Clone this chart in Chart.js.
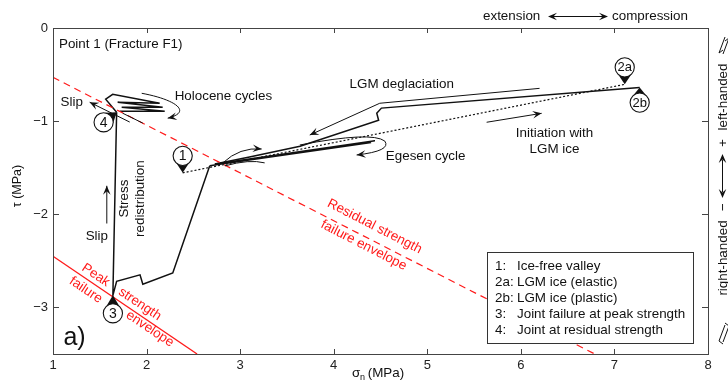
<!DOCTYPE html>
<html>
<head>
<meta charset="utf-8">
<script src="https://cdn.jsdelivr.net/npm/chart.js@4.4.0/dist/chart.umd.min.js"></script>
<style>
  html, body { margin: 0; padding: 0; background: #fff; }
  #wrap { width: 728px; height: 383px; }
</style>
</head>
<body>
<div id="wrap"><canvas id="chart" width="728" height="383"></canvas></div>
<script>
const FONT = '"Liberation Sans", Arial, Helvetica, sans-serif';

// axes
const xTicks = [1, 2, 3, 4, 5, 6, 7, 8];
const yTicks = [0, -1, -2, -3];

// failure envelopes
const peakX = [1, 2.54];
const peakY = [-2.45, -3.5];
const residualX = [1, 6.79];
const residualY = [-0.53, -3.5];

// initiation with LGM ice (1 -> 2a), dotted
const initX = [2.386, 7.11];
const initY = [-1.555, -0.605];

// LGM deglaciation (2b -> back left)
const deglacX = [7.27, 4.51, 4.46, 4.48, 3.64, 3.10, 2.73];
const deglacY = [-0.64, -0.86, -0.915, -0.99, -1.27, -1.385, -1.46];

// Egesen cycle
const egesenX = [2.73, 4.44, 2.95, 4.40, 2.80, 2.675];
const egesenY = [-1.46, -1.21, -1.43, -1.23, -1.46, -1.48];

// descent to peak strength (-> 3) and stress redistribution (3 -> 4)
const descentX = [2.675, 2.28, 1.96, 1.93, 1.68, 1.64, 1.68];
const descentY = [-1.48, -2.63, -2.75, -2.65, -2.72, -2.87, -0.905];

// Holocene cycles
const holoX = [1.68, 1.563, 1.638, 2.14, 1.691, 2.172, 1.734, 2.194, 1.713];
const holoY = [-0.905, -0.765, -0.712, -0.808, -0.797, -0.851, -0.851, -0.893, -0.893];

// labelled states
const stateLabels = ['1', '2a', '2b', '3', '4'];
const stateX = [2.386, 7.11, 7.27, 1.64, 1.68];
const stateY = [-1.555, -0.605, -0.64, -2.87, -0.905];

const legendKeys = ['1:', '2a:', '2b:', '3:', '4:'];
const legendTexts = ['Ice-free valley', 'LGM ice (elastic)', 'LGM ice (plastic)',
  'Joint failure at peak strength', 'Joint at residual strength'];

function pts(xs, ys) { return xs.map((x, i) => ({ x: x, y: ys[i] })); }

function line(data, color, width, dash) {
  return {
    data: data, showLine: true, borderColor: color, borderWidth: width,
    borderDash: dash || [], pointRadius: 0, fill: false, tension: 0
  };
}

function head(ctx, x0, y0, x1, y1) {
  const a = Math.atan2(y1 - y0, x1 - x0), len = 9, w = 3.8;
  ctx.beginPath();
  ctx.moveTo(x1, y1);
  ctx.lineTo(x1 - len * Math.cos(a) + w * Math.sin(a), y1 - len * Math.sin(a) - w * Math.cos(a));
  ctx.lineTo(x1 - 0.6 * len * Math.cos(a), y1 - 0.6 * len * Math.sin(a));
  ctx.lineTo(x1 - len * Math.cos(a) - w * Math.sin(a), y1 - len * Math.sin(a) + w * Math.cos(a));
  ctx.closePath();
  ctx.fill();
}

function text(ctx, s, x, y, opts) {
  opts = opts || {};
  ctx.save();
  ctx.translate(x, y);
  if (opts.rot) ctx.rotate(opts.rot * Math.PI / 180);
  ctx.font = (opts.size || 13.4) + 'px ' + FONT;
  ctx.fillStyle = opts.color || '#111';
  ctx.textAlign = opts.align || 'center';
  ctx.textBaseline = 'middle';
  ctx.fillText(s, 0, 0);
  ctx.restore();
}

const figurePlugin = {
  id: 'figure',
  afterDatasetsDraw(chart) {
    const ctx = chart.ctx, xs = chart.scales.x, ys = chart.scales.y;
    const X = v => xs.getPixelForValue(v), Y = v => ys.getPixelForValue(v);
    const a = chart.chartArea;

    ctx.save();
    ctx.strokeStyle = '#111';
    ctx.fillStyle = '#111';
    ctx.lineWidth = 1;

    // slip arrow along residual envelope near 4
    ctx.beginPath(); ctx.moveTo(X(1.82), Y(-1.01)); ctx.lineTo(X(1.392), Y(-0.797)); ctx.stroke();
    head(ctx, X(1.82), Y(-1.01), X(1.392), Y(-0.797));
    ctx.beginPath(); ctx.moveTo(X(1.745), Y(-0.915)); ctx.lineTo(X(1.959), Y(-1.021)); ctx.stroke();

    // Holocene curved arrow
    ctx.beginPath();
    ctx.moveTo(X(1.948), Y(-0.701));
    ctx.bezierCurveTo(X(2.30), Y(-0.765), X(2.50), Y(-0.90), X(2.226), Y(-0.968));
    ctx.stroke();
    head(ctx, X(2.40), Y(-0.93), X(2.226), Y(-0.968));

    // LGM deglaciation arrow
    ctx.beginPath();
    ctx.moveTo(X(6.2), Y(-0.648)); ctx.lineTo(X(4.492), Y(-0.808)); ctx.lineTo(X(3.744), Y(-1.149));
    ctx.stroke();
    head(ctx, X(4.492), Y(-0.808), X(3.744), Y(-1.149));

    // Initiation arrow
    ctx.beginPath(); ctx.moveTo(X(5.634), Y(-1.012)); ctx.lineTo(X(6.222), Y(-0.916)); ctx.stroke();
    head(ctx, X(5.634), Y(-1.012), X(6.222), Y(-0.916));

    // Egesen curved arrow
    ctx.beginPath();
    ctx.moveTo(X(3.637), Y(-1.256));
    ctx.quadraticCurveTo(X(4.407), Y(-1.107), X(4.546), Y(-1.214));
    ctx.quadraticCurveTo(X(4.62), Y(-1.32), X(4.245), Y(-1.363));
    ctx.stroke();
    head(ctx, X(4.45), Y(-1.34), X(4.245), Y(-1.363));

    // small arc near 1
    ctx.beginPath();
    ctx.moveTo(X(2.815), Y(-1.448));
    ctx.quadraticCurveTo(X(2.996), Y(-1.277), X(3.23), Y(-1.299));
    ctx.stroke();
    head(ctx, X(3.05), Y(-1.285), X(3.23), Y(-1.299));
    ctx.beginPath();
    ctx.moveTo(X(2.837), Y(-1.48));
    ctx.quadraticCurveTo(X(3.1), Y(-1.406), X(3.262), Y(-1.448));
    ctx.stroke();

    // vertical slip arrow
    ctx.beginPath(); ctx.moveTo(X(1.575), Y(-2.099)); ctx.lineTo(X(1.575), Y(-1.694)); ctx.stroke();
    head(ctx, X(1.575), Y(-2.099), X(1.575), Y(-1.694));

    // texts
    text(ctx, 'Point 1 (Fracture F1)', X(1.064), Y(-0.178), { align: 'left' });
    text(ctx, 'Slip', X(1.2), Y(-0.797));
    text(ctx, 'Holocene cycles', X(2.30), Y(-0.734), { align: 'left' });
    text(ctx, 'LGM deglaciation', X(4.17), Y(-0.605), { align: 'left' });
    text(ctx, 'Egesen cycle', X(4.557), Y(-1.373), { align: 'left' });
    text(ctx, 'Initiation with', X(6.36), Y(-1.128));
    text(ctx, 'LGM ice', X(6.36), Y(-1.299));
    text(ctx, 'Slip', X(1.468), Y(-2.238));
    text(ctx, 'Stress', X(1.767), Y(-1.832), { rot: -90 });
    text(ctx, 'redistribution', X(1.938), Y(-1.832), { rot: -90 });
    text(ctx, 'a)', X(1.23), Y(-3.326), { size: 25 });

    const red = '#ff1a1a';
    text(ctx, 'Residual strength', X(4.437), Y(-2.131), { rot: 27.2, color: red });
    text(ctx, 'failure envelope', X(4.32), Y(-2.334), { rot: 27.2, color: red });
    text(ctx, 'Peak', X(1.457), Y(-2.654), { rot: 33.7, color: red });
    text(ctx, 'strength', X(1.928), Y(-2.964), { rot: 33.7, color: red });
    text(ctx, 'failure', X(1.35), Y(-2.814), { rot: 33.7, color: red });
    text(ctx, 'envelope', X(2.035), Y(-3.231), { rot: 33.7, color: red });

    // state pins
    const offs = [[0, -17], [0, -17], [0, 15], [0, 18], [-13, 10]];
    stateLabels.forEach((lab, i) => {
      const px = X(stateX[i]), py = Y(stateY[i]);
      const cx = px + offs[i][0], cy = py + offs[i][1], r = 9.6;
      const ang = Math.atan2(py - cy, px - cx);
      ctx.fillStyle = '#111';
      ctx.beginPath();
      ctx.moveTo(px, py);
      ctx.lineTo(cx + r * Math.cos(ang + 0.75), cy + r * Math.sin(ang + 0.75));
      ctx.lineTo(cx + r * Math.cos(ang - 0.75), cy + r * Math.sin(ang - 0.75));
      ctx.closePath(); ctx.fill();
      ctx.beginPath(); ctx.arc(cx, cy, r, 0, Math.PI * 2);
      ctx.fillStyle = '#fff'; ctx.fill();
      ctx.strokeStyle = '#111'; ctx.lineWidth = 1.1; ctx.stroke();
      text(ctx, lab, cx, cy + 0.5, { size: lab.length > 1 ? 13 : 14 });
    });

    // legend box
    ctx.fillStyle = '#fff';
    ctx.fillRect(487, 252, 206, 91);
    ctx.strokeStyle = '#333'; ctx.lineWidth = 1;
    ctx.strokeRect(487.5, 252.5, 206, 91);
    legendKeys.forEach((k, i) => {
      const yy = 266 + i * 16.1;
      text(ctx, k, 495, yy, { align: 'left', size: 13.4 });
      text(ctx, legendTexts[i], 517, yy, { align: 'left', size: 13.4 });
    });
    ctx.restore();
  },
  afterDraw(chart) {
    const ctx = chart.ctx, xs = chart.scales.x, ys = chart.scales.y;
    const a = chart.chartArea;
    ctx.save();
    // frame and inward ticks
    ctx.strokeStyle = '#444'; ctx.lineWidth = 1;
    ctx.strokeRect(a.left + 0.5, a.top + 0.5, a.right - a.left, a.bottom - a.top);
    ctx.beginPath();
    xTicks.forEach(v => {
      const p = Math.round(xs.getPixelForValue(v)) + 0.5;
      ctx.moveTo(p, a.bottom); ctx.lineTo(p, a.bottom - 5);
      ctx.moveTo(p, a.top); ctx.lineTo(p, a.top + 5);
    });
    yTicks.forEach(v => {
      const p = Math.round(ys.getPixelForValue(v)) + 0.5;
      ctx.moveTo(a.left, p); ctx.lineTo(a.left + 6, p);
      ctx.moveTo(a.right, p); ctx.lineTo(a.right - 6, p);
    });
    ctx.stroke();

    // axis titles
    text(ctx, '\u03c4 (MPa)', 18, 186, { rot: -90, size: 12.5 });
    ctx.font = '13.4px ' + FONT; ctx.fillStyle = '#111';
    ctx.textAlign = 'left'; ctx.textBaseline = 'alphabetic';
    ctx.fillText('\u03c3', 352, 377);
    ctx.font = '9px ' + FONT; ctx.fillText('n', 360, 380);
    ctx.font = '13.4px ' + FONT; ctx.fillText(' (MPa)', 364, 377);

    // top annotation
    text(ctx, 'extension', 483, 16, { align: 'left' });
    text(ctx, 'compression', 612, 16, { align: 'left' });
    ctx.strokeStyle = '#111'; ctx.fillStyle = '#111';
    ctx.beginPath(); ctx.moveTo(552, 16.5); ctx.lineTo(604, 16.5); ctx.stroke();
    head(ctx, 560, 16.5, 548, 16.5);
    head(ctx, 596, 16.5, 608, 16.5);

    // right side annotation
    text(ctx, 'left-handed', 723, 97, { rot: -90 });
    text(ctx, '+', 723, 143, { rot: -90 });
    text(ctx, '\u2212', 723, 207, { rot: -90 });
    text(ctx, 'right-handed', 723, 258, { rot: -90 });
    ctx.beginPath(); ctx.moveTo(722.5, 160); ctx.lineTo(722.5, 192); ctx.stroke();
    head(ctx, 722.5, 166, 722.5, 154);
    head(ctx, 722.5, 186, 722.5, 198);
    // fault symbols
    ctx.lineWidth = 1;
    [[45, 1], [333, -1]].forEach(([cy, s]) => {
      ctx.beginPath();
      ctx.moveTo(719, cy + 8); ctx.lineTo(725, cy - 8);
      ctx.moveTo(723, cy + 9); ctx.lineTo(729, cy - 7);
      ctx.moveTo(719, cy + 8); ctx.lineTo(719 + 4, cy + 8 - 3 * s);
      ctx.moveTo(729, cy - 7); ctx.lineTo(725, cy - 7 + 3 * s);
      ctx.stroke();
    });
    ctx.restore();
  }
};

new Chart(document.getElementById('chart'), {
  type: 'scatter',
  data: {
    datasets: [
      line(pts(peakX, peakY), '#ff1a1a', 1.3),
      line(pts(residualX, residualY), '#ff1a1a', 1.2, [7, 5]),
      line(pts(initX, initY), '#111', 1.2, [2, 2]),
      line(pts(deglacX, deglacY), '#111', 1.5),
      line(pts(egesenX, egesenY), '#111', 1.5),
      line(pts(descentX, descentY), '#111', 1.5),
      line(pts(holoX, holoY), '#111', 1.5)
    ]
  },
  options: {
    responsive: false,
    animation: false,
    devicePixelRatio: 1,
    layout: { padding: { top: 28, right: 20, left: 0, bottom: 0 } },
    plugins: { legend: { display: false }, tooltip: { enabled: false } },
    scales: {
      x: {
        type: 'linear', min: 1, max: 8,
        afterBuildTicks: s => { s.ticks = xTicks.map(v => ({ value: v })); },
        afterFit: s => { s.height = 29; },
        grid: { display: false, drawTicks: false },
        border: { display: false },
        ticks: { padding: 4, color: '#222', autoSkip: false, maxRotation: 0,
          font: { family: FONT, size: 13 } }
      },
      y: {
        type: 'linear', min: -3.5, max: 0,
        afterBuildTicks: s => { s.ticks = yTicks.map(v => ({ value: v })); },
        afterFit: s => { s.width = 53; },
        grid: { display: false, drawTicks: false },
        border: { display: false },
        ticks: { padding: 5, color: '#222', autoSkip: false,
          font: { family: FONT, size: 13 },
          callback: v => v === 0 ? '0' : '\u2212' + Math.abs(v) }
      }
    }
  },
  plugins: [figurePlugin]
});
</script>
</body>
</html>
